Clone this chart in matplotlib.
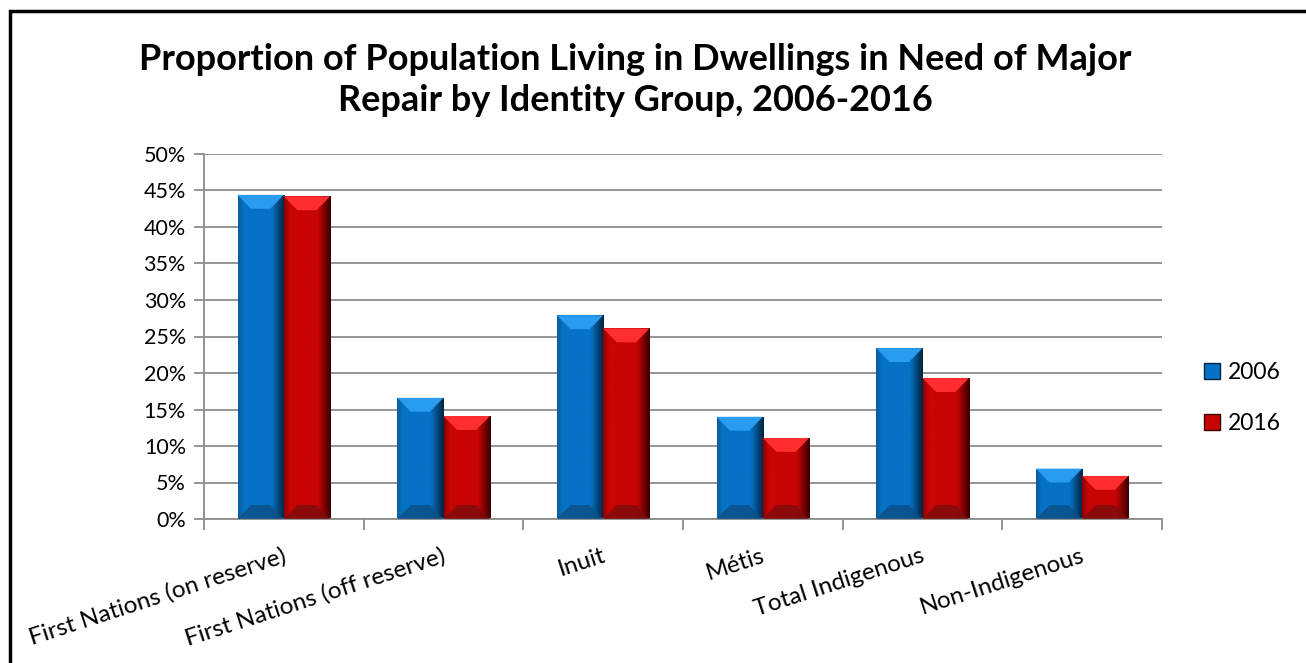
import numpy as np
import matplotlib.pyplot as plt
from matplotlib.patches import Polygon, Rectangle
from matplotlib.colors import LinearSegmentedColormap
from matplotlib.ticker import PercentFormatter
import matplotlib.transforms as mtransforms

plt.rcParams['font.family'] = ['Lato', 'DejaVu Sans']

groups = ['First Nations (on reserve)', 'First Nations (off reserve)', 'Inuit',
          'Métis', 'Total Indigenous', 'Non-Indigenous']
y2006 = [44.4, 16.6, 27.9, 14.0, 23.4, 6.9]
y2016 = [44.2, 14.1, 26.1, 11.1, 19.3, 5.9]
years = ['2006', '2016']
yticks = [0, 5, 10, 15, 20, 25, 30, 35, 40, 45, 50]

title = 'Proportion of Population Living in Dwellings in Need of Major\nRepair by Identity Group, 2006-2016'
caption = 'Figure 7: Proportion of Population Living in Dwellings in Need of Major Repair by Identity Group, 2006-2016'

# colours: edge, base, base, dark right side ; top bevel ; bottom bevel
styles = {
    '2006': (['#0b5c9c', '#0672c6', '#0672c6', '#02243f'], '#2a9cf0', '#0c4f86'),
    '2016': (['#8c0000', '#c80404', '#c80404', '#3a0000'], '#ff2e2e', '#7c0c0c'),
}

fig = plt.figure(figsize=(13.06, 6.63), dpi=100)
ax = fig.add_axes([204/1306, 1-519/663, 958/1306, 365/663])

x = np.arange(len(groups))
w = 0.29
bx = 0.085   # bevel width (x units)
bh = 1.9     # bevel height (data units)


def bevel_bar(x0, h, key):
    grad_cols, top_c, bot_c = styles[key]
    cmap = LinearSegmentedColormap.from_list(key, list(zip([0, 0.12, 0.72, 1.0], grad_cols)))
    grad = np.linspace(0, 1, 100).reshape(1, -1)
    rect = Rectangle((x0, 0), w, h, facecolor='none', edgecolor='none')
    ax.add_patch(rect)
    im = ax.imshow(grad, extent=(x0, x0 + w, 0, h), cmap=cmap, aspect='auto',
                   origin='lower', zorder=2)
    im.set_clip_path(rect)
    b = min(bh, h / 3)
    ax.add_patch(Polygon([(x0, h), (x0 + w, h), (x0 + w - bx, h - b), (x0 + bx, h - b)],
                         closed=True, facecolor=top_c, edgecolor='none', zorder=3))
    ax.add_patch(Polygon([(x0, 0), (x0 + w, 0), (x0 + w - bx, b), (x0 + bx, b)],
                         closed=True, facecolor=bot_c, edgecolor='none', alpha=0.8, zorder=3))


for i in range(len(groups)):
    bevel_bar(x[i] - w, y2006[i], '2006')
    bevel_bar(x[i], y2016[i], '2016')

ax.set_xlim(-0.5, len(groups) - 0.5)
ax.set_ylim(0, 50)
ax.set_yticks(yticks)
ax.yaxis.set_major_formatter(PercentFormatter(decimals=0))
ax.grid(axis='y', color='#8c8c8c', linewidth=1.3, zorder=0)
ax.set_axisbelow(True)
for s in ['top', 'right']:
    ax.spines[s].set_visible(False)
for s in ['left', 'bottom']:
    ax.spines[s].set_color('#8c8c8c')
    ax.spines[s].set_linewidth(1.3)
ax.tick_params(axis='y', length=7, color='#8c8c8c', width=1.3, labelsize=15.5, pad=6)
ax.set_xticks(np.arange(-0.5, len(groups), 1.0))
ax.set_xticklabels([])
ax.tick_params(axis='x', length=8, color='#8c8c8c', width=1.3)

trans = mtransforms.blended_transform_factory(ax.transData, ax.transAxes)
for i, g in enumerate(groups):
    ax.text(x[i] + 0.01, -36/365, g, transform=trans, rotation=18,
            rotation_mode='anchor', ha='right', va='center', fontsize=17.5)

handles = [Rectangle((0, 0), 1, 1, facecolor=styles[k][0][1], edgecolor=styles[k][0][3])
           for k in years]
fig.legend(handles, years, loc='center left', bbox_to_anchor=(1183/1306, 1-398/663),
           frameon=False, fontsize=16.5, handlelength=0.7, handleheight=0.7,
           handletextpad=0.35, labelspacing=1.3)

fig.text(635/1306, 1-80/663, title, ha='center', va='center', fontsize=26,
         fontweight='bold', linespacing=1.3)

# cut-off caption above the chart frame
fig.text(2/1306, 1 + 2/663, caption, ha='left', va='baseline', fontsize=7.6, fontweight='bold')

# chart frame (left and top edges visible)
fig.add_artist(Rectangle((10/1306, -0.2), 1.2, 1.2 - 11/663, transform=fig.transFigure,
                         facecolor='none', edgecolor='black', linewidth=2.5))

fig.savefig('out.png', dpi=100)
